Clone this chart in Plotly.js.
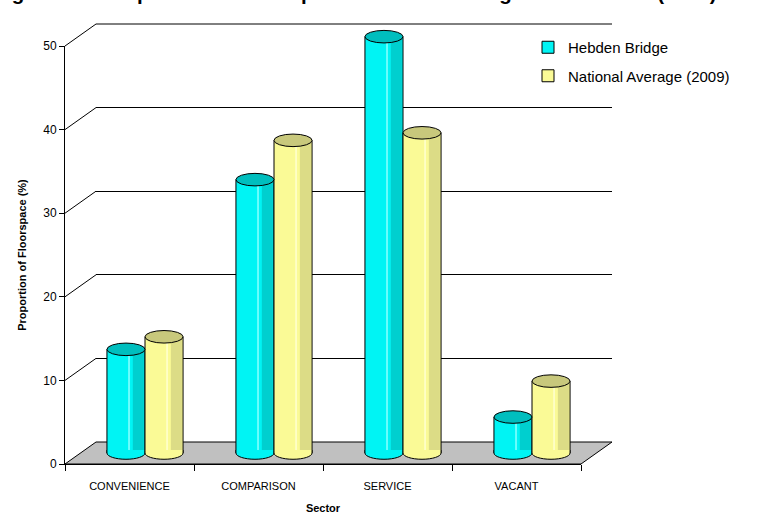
<!DOCTYPE html>
<html>
<head>
<meta charset="utf-8">
<script src="https://cdn.plot.ly/plotly-3.0.1.min.js"></script>
<style>html,body{margin:0;padding:0;background:#fff;}#chart{width:771px;height:514px;}</style>
</head>
<body>
<div id="chart"></div>
<script>
// ---- data ----
const categories = ['CONVENIENCE', 'COMPARISON', 'SERVICE', 'VACANT'];
const hebdenBridge = [12.4, 32.7, 49.8, 4.3];
const nationalAverage = [13.9, 37.4, 38.3, 8.6];
const seriesNames = ['Hebden Bridge', 'National Average (2009)'];
const yTickValues = [0, 10, 20, 30, 40, 50];
const chartTitle = '<b>Figure 5.3: Proportion of Floorspace in Hebden Bridge Town Centre (2009)</b>';
const yTitle = '<b>Proportion of Floorspace (%)</b>';
const xTitle = '<b>Sector</b>';

// ---- geometry (pixels) ----
const FW = 771, FH = 514;
const L = 65, R = 612, T = 24, B = 464;
const W = R - L, H = B - T;
const DX = 31, DY = 22;           // depth offset of the 3D box
const YMAX = 50;
const s = (H - DY) / YMAX;        // px per unit
const barW = 0.295;               // bar width (category units)
const ell = 0.75;                 // half height of cylinder ellipse (value units)
const FONT = 'Liberation Sans, Arial, sans-serif';

const colors = {
  body: ['#00F4F4', '#FAFA96'],
  dark: ['#00CFCF', '#DCDC86'],
  light: ['#8CFFFF', '#FFFFD0'],
  top: ['#00BEBE', '#C8C87C']
};

const idx = categories.map((c, i) => i);
const series = [hebdenBridge, nationalAverage];
const offsets = [-barW, 0];

const traces = [];
// helper trace for the back wall subplot (xy)
traces.push({x: [0], y: [0], xaxis: 'x', yaxis: 'y', type: 'scatter', mode: 'markers',
  marker: {opacity: 0}, showlegend: false, hoverinfo: 'skip'});

series.forEach((vals, k) => {
  traces.push({
    type: 'bar', name: seriesNames[k], x: idx, y: vals, customdata: categories,
    xaxis: 'x2', yaxis: 'y2', offset: offsets[k], width: barW,
    legendgroup: 'g' + k,
    marker: {color: colors.body[k], line: {color: '#000', width: 1}},
    hovertemplate: '%{customdata}: %{y}%<extra>' + seriesNames[k] + '</extra>'
  });
  // shading bands (same values, drawn through same axes)
  traces.push({
    type: 'bar', x: idx, y: vals, xaxis: 'x2', yaxis: 'y2',
    offset: offsets[k] + barW * 0.68, width: barW * 0.29,
    marker: {color: colors.dark[k], line: {width: 0}}, showlegend: false, hoverinfo: 'skip'
  });
  traces.push({
    type: 'bar', x: idx, y: vals, xaxis: 'x2', yaxis: 'y2',
    offset: offsets[k] + barW * 0.56, width: barW * 0.04,
    marker: {color: colors.light[k], line: {width: 0}}, showlegend: false, hoverinfo: 'skip'
  });
});

// helper trace for front axes (categories)
traces.push({x: categories, y: categories.map(() => 0), xaxis: 'x3', yaxis: 'y3', type: 'scatter',
  mode: 'markers', marker: {opacity: 0}, showlegend: false, hoverinfo: 'skip'});

// ---- shapes ----
const shapes = [];
const frontY = v => (v / YMAX) * (H - DY) / H;
const backY = v => DY / H + (v / YMAX) * (H - DY) / H;
const xFrontR = (W - DX) / W, xBackL = DX / W;

// floor
shapes.push({type: 'path', xref: 'paper', yref: 'paper', layer: 'below',
  path: `M0,0 L${xFrontR},0 L1,${DY / H} L${xBackL},${DY / H} Z`,
  fillcolor: '#C0C0C0', line: {color: '#000', width: 1}});
// side-wall gridlines and top back gridline
yTickValues.filter(v => v > 0).forEach(v => {
  shapes.push({type: 'line', xref: 'paper', yref: 'paper', layer: 'below',
    x0: 0, y0: frontY(v), x1: xBackL, y1: backY(v), line: {color: '#000', width: 1}});
});
shapes.push({type: 'line', xref: 'paper', yref: 'paper', layer: 'below',
  x0: xBackL, y0: backY(YMAX), x1: 1, y1: backY(YMAX), line: {color: '#000', width: 1}});

// cylinder caps and bottoms
const kap = 0.5523;
series.forEach((vals, k) => {
  vals.forEach((v, i) => {
    const xl = i + offsets[k], xr = xl + barW, cx = (xl + xr) / 2, a = barW / 2;
    const d = 0.35;
    shapes.push({type: 'path', xref: 'x2', yref: 'y2', layer: 'above',
      path: `M${xl},${d} L${xl},0 C${xl},${-kap * ell} ${cx - kap * a},${-ell} ${cx},${-ell} ` +
            `C${cx + kap * a},${-ell} ${xr},${-kap * ell} ${xr},0 L${xr},${d}`,
      fillcolor: colors.body[k], line: {color: '#000', width: 1}});
    shapes.push({type: 'circle', xref: 'x2', yref: 'y2', layer: 'above',
      x0: xl, x1: xr, y0: v - ell, y1: v + ell,
      fillcolor: colors.top[k], line: {color: '#000', width: 1}});
  });
});

const layout = {
  width: FW, height: FH,
  margin: {l: L, r: FW - R, t: T, b: FH - B, pad: 0},
  paper_bgcolor: '#fff', plot_bgcolor: 'rgba(0,0,0,0)',
  font: {family: FONT, color: '#000', size: 12},
  title: {text: chartTitle, font: {family: FONT, size: 20.5, color: '#000'},
    xref: 'container', x: 0.4605, xanchor: 'center', yref: 'container', y: 1, yanchor: 'bottom'},
  showlegend: true,
  legend: {x: (528 - L) / W, xanchor: 'left', y: (B - 31) / H, yanchor: 'top',
    font: {family: FONT, size: 15, color: '#000'}, traceorder: 'grouped', tracegroupgap: 6,
    bgcolor: 'rgba(0,0,0,0)', borderwidth: 0},
  barmode: 'overlay',
  // back wall
  xaxis: {domain: [DX / W, 1], range: [-0.5, 3.5], visible: false, anchor: 'y', fixedrange: true},
  yaxis: {domain: [DY / H, 1], range: [0, YMAX], anchor: 'x', showgrid: true, gridcolor: '#000', gridwidth: 1,
    tickvals: yTickValues.filter(v => v > 0), showticklabels: false, ticks: '', zeroline: false, showline: false,
    fixedrange: true},
  // bars (mid depth)
  xaxis2: {domain: [DX / 2 / W, (W - DX / 2) / W], range: [-0.5, 3.5], visible: false, anchor: 'y2', fixedrange: true},
  yaxis2: {domain: [0, 1], range: [-(DY / 2) / s, (H - DY / 2) / s], visible: false, anchor: 'x2', fixedrange: true},
  // front axes
  xaxis3: {domain: [0, (W - DX) / W], type: 'category', categoryorder: 'array', categoryarray: categories,
    range: [-0.5, 3.5], anchor: 'y3', tickson: 'boundaries', ticks: 'outside', ticklen: 6, tickcolor: '#000',
    showline: true, linecolor: '#000', linewidth: 1, showgrid: false, zeroline: false,
    tickfont: {family: FONT, size: 11, color: '#000'}, ticklabelstandoff: 12,
    title: {text: xTitle, font: {family: FONT, size: 11, color: '#000'}, standoff: 13}, fixedrange: true},
  yaxis3: {domain: [0, (H - DY) / H], range: [0, YMAX], anchor: 'x3', tickvals: yTickValues,
    ticks: 'outside', ticklen: 5, tickcolor: '#000', showline: true, linecolor: '#000', linewidth: 1,
    showgrid: false, zeroline: false, tickfont: {family: FONT, size: 12, color: '#000'},
    title: {text: yTitle, font: {family: FONT, size: 11, color: '#000'}, standoff: 14}, fixedrange: true},
  shapes: shapes
};

Plotly.newPlot('chart', traces, layout, {displayModeBar: false, staticPlot: true});
</script>
</body>
</html>
